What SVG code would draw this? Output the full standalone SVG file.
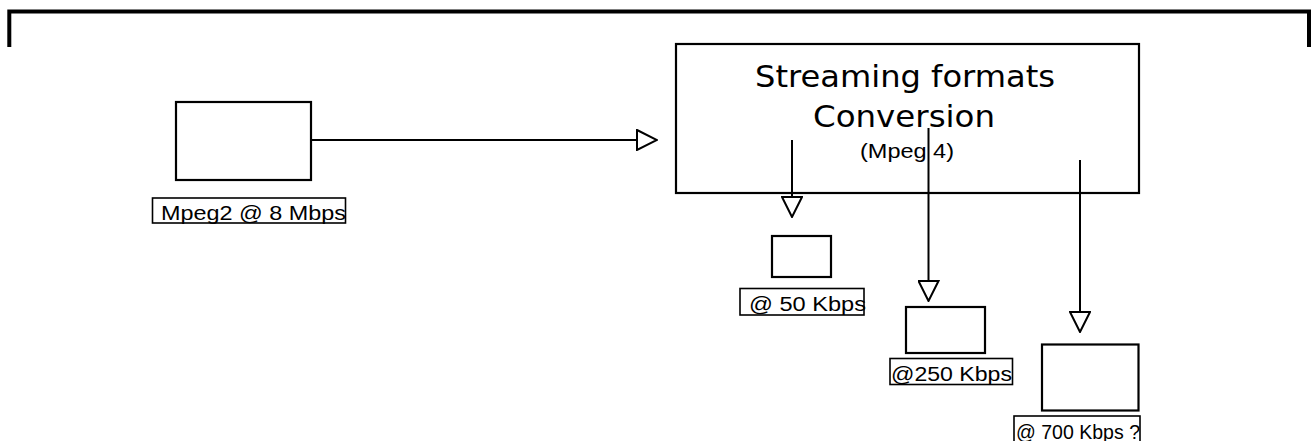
<svg xmlns="http://www.w3.org/2000/svg" width="1311" height="441" viewBox="0 0 1311 441">
  <defs>
    <marker id="open-tri" viewBox="0 0 22 22" refX="0" refY="11" markerWidth="22" markerHeight="22" markerUnits="userSpaceOnUse" orient="auto">
      <path d="M1,1 L21,11 L1,21 Z" fill="#fff" stroke="#000" stroke-width="2" stroke-linejoin="miter"/>
    </marker>
    <style>
      .box { fill: #fff; stroke: #000; stroke-width: 2.2; }
      .lbl { fill: #fff; stroke: #000; stroke-width: 1.6; }
      .edge { fill: none; stroke: #000; stroke-width: 2; marker-end: url(#open-tri); }
      .t { font-family: "Liberation Sans", Arial, sans-serif; font-size: 20px; fill: #000; }
      .title { font-family: "DejaVu Sans", Verdana, sans-serif; font-size: 30px; fill: #000; }
    </style>
  </defs>
  <rect width="1311" height="441" fill="#fff"/>

  <!-- top frame bracket -->
  <path id="frame" d="M9.3,47 V11.5 H1309 V47" fill="none" stroke="#000" stroke-width="4"/>

  <!-- source -->
  <g id="source">
    <rect class="box" x="176" y="102" width="135" height="78"/>
    <rect class="lbl" x="152.5" y="198" width="193" height="25"/>
    <text class="t" x="161" y="220" textLength="185" lengthAdjust="spacingAndGlyphs">Mpeg2 @ 8 Mbps</text>
  </g>

  <!-- converter -->
  <g id="converter">
    <rect class="box" x="676" y="44" width="463" height="149" stroke-width="2.5"/>
    <text class="title" x="755" y="87" textLength="300" lengthAdjust="spacingAndGlyphs">Streaming formats</text>
    <text class="title" x="813" y="127" textLength="182" lengthAdjust="spacingAndGlyphs">Conversion</text>
    <text class="t" x="860" y="158" font-size="19" textLength="94" lengthAdjust="spacingAndGlyphs">(Mpeg 4)</text>
  </g>

  <!-- outputs -->
  <g id="out-50">
    <rect class="box" x="772" y="236" width="59" height="41"/>
    <rect class="lbl" x="740" y="288.5" width="124" height="26.5"/>
    <text class="t" x="749" y="311" textLength="117" lengthAdjust="spacingAndGlyphs">@ 50 Kbps</text>
  </g>
  <g id="out-250">
    <rect class="box" x="906" y="307" width="79" height="46"/>
    <rect class="lbl" x="890" y="358.5" width="122.5" height="26"/>
    <text class="t" x="891" y="381" textLength="121" lengthAdjust="spacingAndGlyphs">@250 Kbps</text>
  </g>
  <g id="out-700">
    <rect class="box" x="1042" y="344.5" width="96.5" height="66"/>
    <rect class="lbl" x="1014" y="416" width="126" height="27"/>
    <text class="t" x="1016" y="438.5" textLength="124" lengthAdjust="spacingAndGlyphs">@ 700 Kbps ?</text>
  </g>

  <!-- connectors -->
  <g id="connectors">
    <path class="edge" d="M311,140 H636"/>
    <path class="edge" d="M792,140 V196"/>
    <path class="edge" d="M928.5,128 V280"/>
    <path class="edge" d="M1080,160 V311"/>
  </g>
</svg>
